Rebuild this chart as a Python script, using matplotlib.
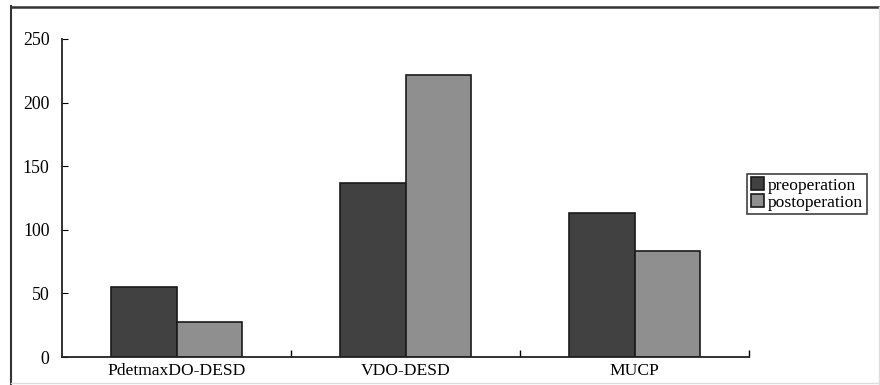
import numpy as np
import matplotlib.pyplot as plt
from matplotlib.lines import Line2D

plt.rcParams['font.family'] = ['Liberation Serif', 'DejaVu Serif']

categories = ['PdetmaxDO-DESD', 'VDO-DESD', 'MUCP']
pre = [55, 137, 113.5]
post = [27.5, 222, 83.3]
series_names = ['preoperation', 'postoperation']

W, H = 880, 385
fig = plt.figure(figsize=(W / 100, H / 100), dpi=100)
ax = fig.add_axes([62 / W, 28 / H, (749 - 62) / W, (357 - 39) / H])

x = np.arange(len(categories))
bw = 0.288
ax.bar(x - bw / 2, pre, bw, color='#414141', edgecolor='#1a1a1a', linewidth=1.2,
       label=series_names[0])
ax.bar(x + bw / 2, post, bw, color='#8f8f8f', edgecolor='#1a1a1a', linewidth=1.2,
       label=series_names[1])

ax.set_xlim(-0.5, len(categories) - 0.5)
ax.set_ylim(0, 250)
ax.set_yticks(np.arange(0, 251, 50))
ax.set_xticks(x)
ax.set_xticklabels(categories, fontsize=12.6)
ax.tick_params(axis='x', length=0, pad=4)
ax.tick_params(axis='y', direction='in', length=4, labelsize=12.8, pad=9)
# separators between categories on the x axis
ax.set_xticks(np.arange(0.5, len(categories), 1.0), minor=True)
ax.tick_params(axis='x', which='minor', direction='in', length=5, width=1.0)
ax.spines['top'].set_visible(False)
ax.spines['right'].set_visible(False)
for s in ['left', 'bottom']:
    ax.spines[s].set_linewidth(1.3)
    ax.spines[s].set_color('#222222')

leg = ax.legend(loc='center left', bbox_to_anchor=(747 / W, 191 / H),
                bbox_transform=fig.transFigure, fontsize=12.6, frameon=True,
                fancybox=False, edgecolor='#111111', handlelength=0.75,
                handleheight=0.75, handletextpad=0.25, borderpad=0.2,
                labelspacing=0.05, borderaxespad=0)
leg.get_frame().set_linewidth(1.2)

# outer frame
fig.add_artist(Line2D([11 / W, 11 / W], [0, 1 - 6 / H], color='#333333', lw=1.5,
                      transform=fig.transFigure))
fig.add_artist(Line2D([11 / W, 1], [1 - 7 / H, 1 - 7 / H], color='#333333', lw=1.8,
                      transform=fig.transFigure))
fig.add_artist(Line2D([879 / W, 879 / W], [0, 1 - 7 / H], color='#dddddd', lw=1,
                      transform=fig.transFigure))
fig.add_artist(Line2D([11 / W, 1], [2 / H, 2 / H], color='#dddddd', lw=1,
                      transform=fig.transFigure))

fig.savefig('out.png', dpi=100)
